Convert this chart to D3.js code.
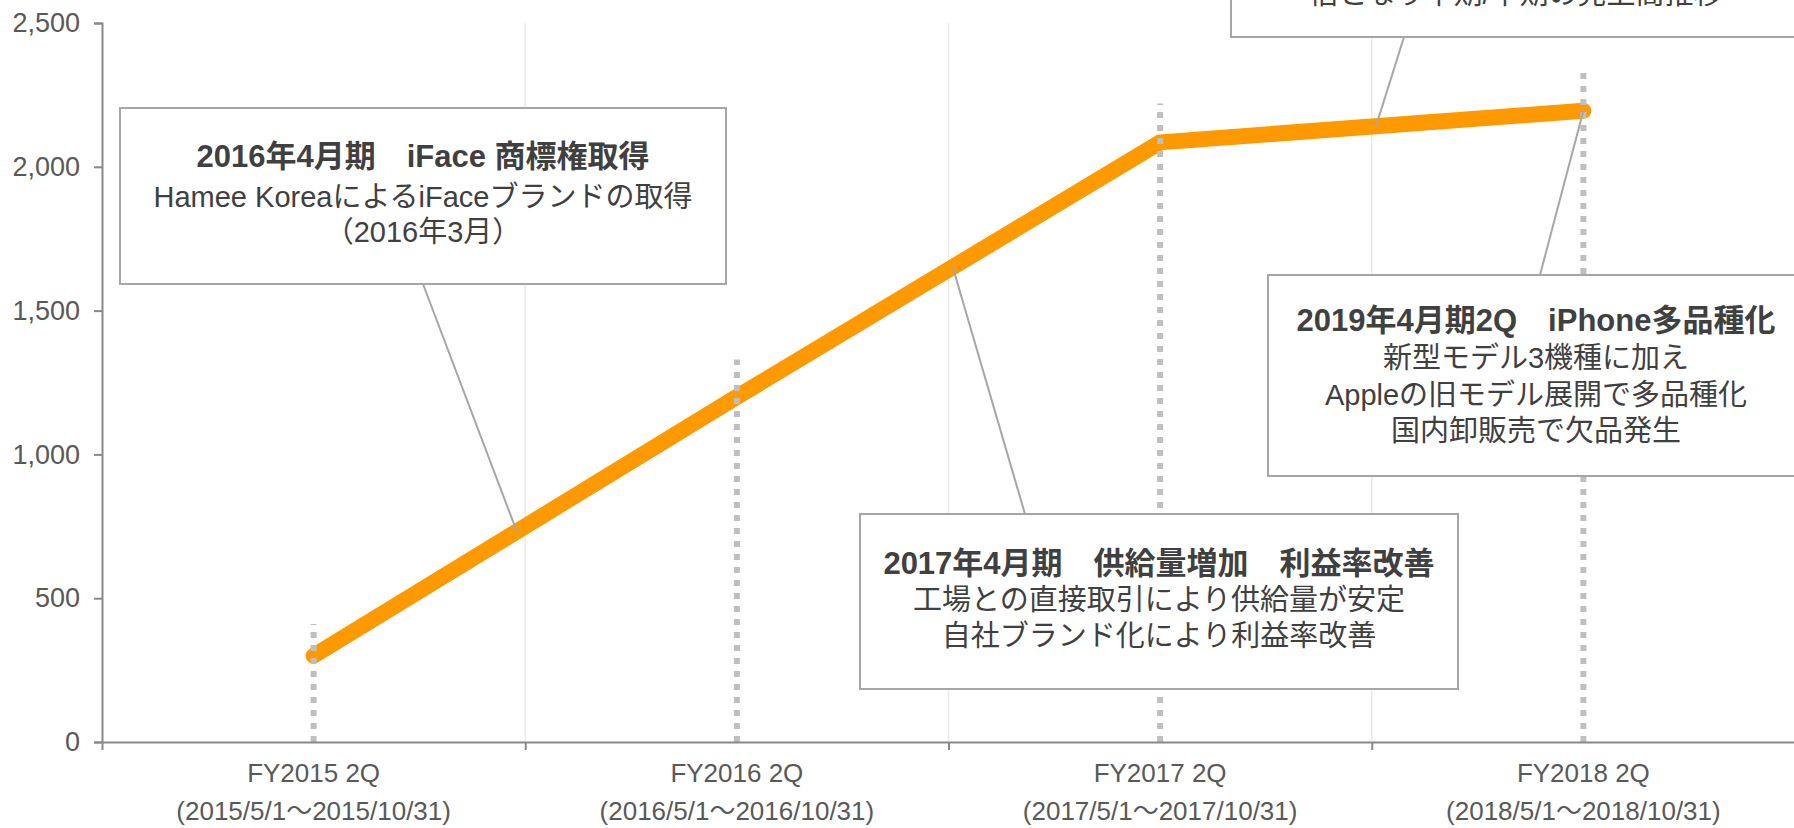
<!DOCTYPE html>
<html><head><meta charset="utf-8">
<script src="https://cdn.jsdelivr.net/npm/d3@7"></script>
<style>
html,body{margin:0;padding:0;background:#fff;overflow:hidden}
svg{display:block}
</style></head>
<body>
<svg id="chart" width="1794" height="828"></svg>
<script>
// ---- data ----
const categories = ["FY2015 2Q","FY2016 2Q","FY2017 2Q","FY2018 2Q"];
const periodLabels = ["(2015/5/1～2015/10/31)","(2016/5/1～2016/10/31)","(2017/5/1～2017/10/31)","(2018/5/1～2018/10/31)"];
const salesValues = [300, 1200, 2085, 2195];
const markerTops = [410, 1330, 2220, 2350];
const yTicks = [0, 500, 1000, 1500, 2000, 2500];

const note1 = ["2016年4月期　iFace 商標権取得", "Hamee KoreaによるiFaceブランドの取得", "（2016年3月）"];
const note2 = ["2017年4月期　供給量増加　利益率改善", "工場との直接取引により供給量が安定", "自社ブランド化により利益率改善"];
const note3 = ["2019年4月期2Q　iPhone多品種化", "新型モデル3機種に加え", "Appleの旧モデル展開で多品種化", "国内卸販売で欠品発生"];
const note4 = ["倍となり半期/半期の売上高推移"];

// ---- layout ----
const svg = d3.select("#chart");
const L = 102, R = 1795, T = 23, B = 742;
const x = d3.scaleBand().domain(categories).range([L, R]);
const y = d3.scaleLinear().domain([0, 2500]).range([B, T]);
const cx = c => x(c) + x.bandwidth() / 2;
const font = "'Liberation Sans', Arial, 'Noto Sans CJK JP', sans-serif";
const nfont = "'Liberation Sans Narrow', 'Arial Narrow', " + font;

// gridlines at category boundaries
svg.append("g").selectAll("line").data(categories.slice(1)).join("line")
  .attr("x1", d => x(d)).attr("x2", d => x(d)).attr("y1", T).attr("y2", B)
  .attr("stroke", "#EBEBEB").attr("stroke-width", 1.5);

// main line
const pts = categories.map((c, i) => [cx(c), y(salesValues[i])]);
svg.append("path").datum(salesValues)
  .attr("d", d3.line().x((d, i) => cx(categories[i])).y(d => y(d)))
  .attr("fill", "none").attr("stroke", "#FF9900").attr("stroke-width", 16)
  .attr("stroke-linecap", "round").attr("stroke-linejoin", "round");

// dotted markers
svg.append("g").selectAll("line").data(categories).join("line")
  .attr("x1", d => cx(d)).attr("x2", d => cx(d))
  .attr("y1", B).attr("y2", (d, i) => y(markerTops[i]))
  .attr("stroke", "#BFBFBF").attr("stroke-width", 6).attr("stroke-dasharray", "6,7");

// axes
const yAxis = svg.append("g").attr("transform", `translate(${L},0)`)
  .call(d3.axisLeft(y).tickValues(yTicks).tickFormat(d3.format(",")).tickSizeOuter(0).tickSize(8).tickPadding(14));
yAxis.select(".domain").attr("stroke", "#898989").attr("stroke-width", 2);
yAxis.selectAll(".tick line").attr("stroke", "#898989").attr("stroke-width", 2);
yAxis.selectAll("text").attr("font-family", font).attr("font-size", 27).attr("fill", "#595959");

const xb = d3.scaleLinear().domain([0, categories.length]).range([L, R]);
const xAxis = svg.append("g").attr("transform", `translate(0,${B})`)
  .call(d3.axisBottom(xb).tickValues(d3.range(categories.length + 1)).tickFormat("").tickSize(8).tickSizeOuter(0));
xAxis.select(".domain").attr("stroke", "#898989").attr("stroke-width", 2);
xAxis.selectAll(".tick line").attr("stroke", "#898989").attr("stroke-width", 2);

const xl = svg.append("g");
xl.selectAll("text.c").data(categories).join("text").attr("class", "c")
  .attr("x", d => cx(d)).attr("y", 782).attr("text-anchor", "middle")
  .attr("font-family", nfont).attr("font-size", 26).attr("fill", "#595959").text(d => d);
xl.selectAll("text.p").data(periodLabels).join("text").attr("class", "p")
  .attr("x", (d, i) => cx(categories[i])).attr("y", 820).attr("text-anchor", "middle")
  .attr("font-family", nfont).attr("font-size", 26).attr("fill", "#595959").text(d => d);

// annotations
function along(i, t) {
  return [pts[i][0] + (pts[i + 1][0] - pts[i][0]) * t, pts[i][1] + (pts[i + 1][1] - pts[i][1]) * t];
}
const notes = [
  {lines: note1, box: [120, 108, 726, 284], from: [423, 284], to: along(0, 0.48), cxText: 423, ys: [156, 197, 232]},
  {lines: note2, box: [860, 514, 1458, 689], from: [1025, 514], to: along(1, 0.51), cxText: 1159, ys: [563, 600, 636]},
  {lines: note3, box: [1268, 275, 1800, 476], from: [1540, 275], to: pts[3], cxText: 1536, ys: [320, 358, 395, 431]},
  {lines: note4, box: [1231, -200, 1800, 37], from: [1404, 37], to: along(2, 0.51), cxText: 1516, ys: [-6]}
];
const gN = svg.append("g");
notes.forEach(n => {
  gN.append("line").attr("x1", n.from[0]).attr("y1", n.from[1]).attr("x2", n.to[0]).attr("y2", n.to[1])
    .attr("stroke", "#A6A6A6").attr("stroke-width", 2);
});
notes.forEach(n => {
  const [x0, y0, x1, y1] = n.box;
  gN.append("rect").attr("x", x0).attr("y", y0).attr("width", x1 - x0).attr("height", y1 - y0)
    .attr("fill", "#fff").attr("stroke", "#A6A6A6").attr("stroke-width", 2);
  n.lines.forEach((t, k) => {
    const bold = n.lines.length > 1 && k === 0;
    gN.append("text").attr("x", n.cxText).attr("y", n.ys[k]).attr("dy", "0.35em")
      .attr("text-anchor", "middle").attr("font-family", font)
      .attr("font-size", bold ? 31 : 29).attr("font-weight", bold ? "bold" : "normal")
      .attr("fill", "#404040").text(t);
  });
});
</script>
</body></html>
